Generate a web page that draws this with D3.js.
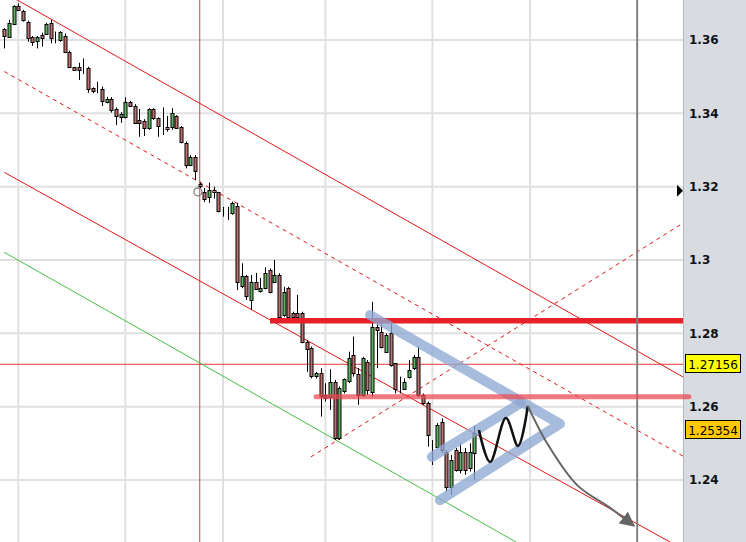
<!DOCTYPE html>
<html><head><meta charset="utf-8">
<script src="https://cdn.jsdelivr.net/npm/d3@7"></script>
<style>html,body{margin:0;padding:0;background:#fff;}svg{display:block;}</style>
</head><body>
<script>
// ---------- DATA ----------
const openP = [1.3629,1.3609,1.3644,1.3693,1.3679,1.3650,1.3607,1.3595,1.3614,1.3618,
1.3647,1.3607,1.3600,1.3611,1.3568,1.3526,1.3526,1.3527,1.3524,1.3468,
1.3466,1.3466,1.3432,1.3438,1.3411,1.3390,1.3390,1.3430,1.3420,1.3382,
1.3380,1.3359,1.3411,1.3386,1.3364,1.3364,1.3362,1.3394,1.3362,1.3320,
1.3259,1.3282,
1.3207,1.3186,1.3173,1.3191,1.3185,1.3130,1.3132,1.3127,1.3147,1.2927,
1.2955,1.2891,1.2941,1.2914,1.2923,1.2973,1.2941,1.2959,1.2850,1.2923,
1.2855,1.2855,1.2855,1.2777,1.2759,1.2682,1.2691,1.2632,1.2627,1.2668,
1.2514,1.2641,1.2668,1.2741,1.2688,1.2632,1.2723,1.2641,1.2818,1.2805,
1.2750,1.2800,1.2718,1.2646,1.2650,1.2682,1.2705,1.2736,1.2632,1.2609,
1.2500,1.2491,1.2559,1.2477,1.2382,1.2482,1.2427,1.2475,1.2432,1.2473];
const closeP = [1.3609,1.3647,1.3693,1.3682,1.3655,1.3607,1.3593,1.3607,1.3605,1.3644,
1.3605,1.3607,1.3621,1.3568,1.3526,1.3518,1.3518,1.3527,1.3468,1.3459,
1.3466,1.3432,1.3439,1.3409,1.3391,1.3398,1.3430,1.3420,1.3373,1.3374,
1.3362,1.3411,1.3386,1.3365,1.3364,1.3359,1.3400,1.3362,1.3320,1.3259,
1.3282,1.3244,
1.3202,1.3168,1.3191,1.3186,1.3132,1.3130,1.3132,1.3155,1.2941,1.2955,
1.2900,1.2941,1.2923,1.2923,1.2964,1.2914,1.2959,1.2845,1.2914,1.2845,
1.2845,1.2845,1.2777,1.2759,1.2682,1.2691,1.2627,1.2623,1.2668,1.2514,
1.2650,1.2675,1.2732,1.2691,1.2632,1.2734,1.2646,1.2818,1.2809,1.2764,
1.2796,1.2714,1.2646,1.2646,1.2668,1.2700,1.2736,1.2632,1.2609,1.2523,
1.2500,1.2550,1.2482,1.2382,1.2455,1.2427,1.2475,1.2427,1.2477,1.2527];
const highP = [1.3632,1.3655,1.3695,1.3700,1.3682,1.3653,1.3611,1.3611,1.3620,1.3647,
1.3655,1.3623,1.3624,1.3618,1.3571,1.3527,1.3538,1.3550,1.3527,1.3471,
1.3486,1.3473,1.3445,1.3444,1.3416,1.3403,1.3444,1.3434,1.3425,1.3412,
1.3384,1.3414,1.3414,1.3389,1.3416,1.3393,1.3414,1.3395,1.3365,1.3323,
1.3286,1.3286,
1.3213,1.3196,1.3211,1.3200,1.3186,1.3145,1.3145,1.3159,1.3156,1.2991,
1.2959,1.2959,1.2965,1.2951,1.2980,1.2977,1.3000,1.2964,1.2927,1.2927,
1.2859,1.2905,1.2859,1.2782,1.2764,1.2695,1.2705,1.2664,1.2702,1.2673,
1.2655,1.2677,1.2750,1.2791,1.2705,1.2736,1.2727,1.2886,1.2841,1.2832,
1.2800,1.2832,1.2718,1.2682,1.2677,1.2727,1.2741,1.2764,1.2636,1.2614,
1.2509,1.2555,1.2568,1.2482,1.2468,1.2487,1.2500,1.2487,1.2500,1.2547];
const lowP = [1.3577,1.3607,1.3641,1.3679,1.3650,1.3595,1.3584,1.3577,1.3582,1.3614,
1.3591,1.3591,1.3595,1.3564,1.3523,1.3517,1.3491,1.3507,1.3456,1.3455,
1.3455,1.3420,1.3427,1.3402,1.3368,1.3374,1.3386,1.3418,1.3371,1.3336,
1.3338,1.3355,1.3382,1.3336,1.3341,1.3350,1.3355,1.3359,1.3318,1.3250,
1.3256,1.3218,
1.3196,1.3158,1.3156,1.3168,1.3130,1.3118,1.3109,1.3123,1.2918,1.2923,
1.2891,1.2864,1.2918,1.2911,1.2920,1.2909,1.2938,1.2836,1.2845,1.2836,
1.2832,1.2842,1.2773,1.2695,1.2677,1.2677,1.2573,1.2614,1.2591,1.2509,
1.2509,1.2636,1.2664,1.2682,1.2605,1.2627,1.2632,1.2627,1.2705,1.2759,
1.2746,1.2709,1.2636,1.2636,1.2646,1.2677,1.2700,1.2627,1.2605,1.2491,
1.2441,1.2487,1.2473,1.2368,1.2359,1.2423,1.2418,1.2414,1.2423,1.2400];

const priceTicks = [1.24, 1.26, 1.28, 1.30, 1.32, 1.34, 1.36];
const priceTickLabels = ["1.24","1.26","1.28","1.3","1.32","1.34","1.36"];
const timeGridIdx = [3, 26, 47, 69, 92, 113];
const markerVLineIdx = 42;      // thin red vertical
const cursorVLineIdx = 136;     // dark gray vertical
const crossPrice = 1.27156;
const lastPrice = 1.25354;
const arrowMarkPrice = 1.32;

// trend lines [index, price]
const upperChannel = [[0, 1.3729], [146, 1.2680]];
const midChannel   = [[0, 1.3514], [146, 1.2464]];
const lowerChannel = [[0, 1.3239], [146, 1.2210]];
const greenLine    = [[0, 1.3021], [146, 1.1972]];
const risingDashed = [[65.9, 1.2463], [145.9, 1.3101]];
const resistance   = [[57.1, 1.2834], [145.9, 1.2834]];
const support      = [[67.0, 1.2627], [147.1, 1.2627]];
const bluePattern  = [[78.6, 1.2850], [119.4, 1.2553], [93.6, 1.2345]];
const blueRising   = [[91.9, 1.2463], [111.0, 1.2610]];
const wave         = [[102.0, 1.2536], [104.4, 1.2449], [107.8, 1.2569], [110.4, 1.2493], [112.5, 1.2602]];
const arrowPath    = [[112.5, 1.2602], [116.6, 1.2501], [123.1, 1.2386], [130.2, 1.2324], [135.3, 1.2275]];
const circleMark   = [41.6, 1.3186];

// ---------- DRAW ----------
const W = 746, H = 542, plotR = 683;
const x = d3.scaleLinear().domain([0, 101]).range([4.3, 474.3]);
const y = d3.scaleLinear().domain([1.24, 1.36]).range([480, 40]);

const svg = d3.select("body").append("svg").attr("width", W).attr("height", H)
  .style("font-family", "'DejaVu Sans', Verdana, sans-serif");
const defs = svg.append("defs");
defs.append("clipPath").attr("id", "plot").append("rect").attr("x", 0).attr("y", 0).attr("width", plotR).attr("height", H);
defs.append("marker").attr("id", "ah").attr("viewBox", "0 0 10 10").attr("refX", 9).attr("refY", 5)
  .attr("markerWidth", 15).attr("markerHeight", 15).attr("markerUnits", "userSpaceOnUse").attr("orient", "auto")
  .append("path").attr("d", "M0,0 L10,5 L0,10 z").attr("fill", "#666");

svg.append("rect").attr("width", W).attr("height", H).attr("fill", "#fff");
// right panel
svg.append("rect").attr("x", plotR).attr("y", 0).attr("width", W - plotR).attr("height", H).attr("fill", "#d8dce1");
svg.append("line").attr("x1", plotR + 0.5).attr("x2", plotR + 0.5).attr("y1", 0).attr("y2", H).attr("stroke", "#b4b8bd");

const g = svg.append("g").attr("clip-path", "url(#plot)");
// grid
g.selectAll(".hg").data(priceTicks).join("line")
  .attr("x1", 0).attr("x2", plotR).attr("y1", d => y(d)).attr("y2", d => y(d))
  .attr("stroke", "#e0e0e0").attr("stroke-width", 2);
g.selectAll(".vg").data(timeGridIdx).join("line")
  .attr("x1", d => x(d)).attr("x2", d => x(d)).attr("y1", 0).attr("y2", H)
  .attr("stroke", "#e0e0e0").attr("stroke-width", 2);

// thin red vertical & cross line
g.append("line").attr("x1", x(markerVLineIdx)).attr("x2", x(markerVLineIdx)).attr("y1", 0).attr("y2", H)
  .attr("stroke", "#c84848").attr("stroke-width", 1);
g.append("line").attr("x1", 0).attr("x2", plotR).attr("y1", y(crossPrice)).attr("y2", y(crossPrice))
  .attr("stroke", "#e83838").attr("stroke-width", 1);

const line = d3.line().x(d => x(d[0])).y(d => y(d[1]));
const addLine = (pts, color, w, dash) => g.append("path").attr("d", line(pts)).attr("fill", "none")
  .attr("stroke", color).attr("stroke-width", w).attr("stroke-dasharray", dash || null);
addLine(upperChannel, "#e01818", 1);
addLine(midChannel, "#e01818", 1, "4,4");
addLine(lowerChannel, "#e01818", 1);
addLine(greenLine, "#44c044", 1);
addLine(risingDashed, "#e01818", 1, "4,4");

// candles
const idx = d3.range(openP.length);
const cg = g.append("g");
cg.selectAll(".wick").data(idx).join("line")
  .attr("x1", i => Math.round(x(i)) + 0.5).attr("x2", i => Math.round(x(i)) + 0.5)
  .attr("y1", i => y(highP[i])).attr("y2", i => y(lowP[i]))
  .attr("stroke", "#000").attr("stroke-width", 1);
cg.selectAll(".body").data(idx).join("rect")
  .attr("x", i => Math.round(x(i)) - 1)
  .attr("y", i => Math.round(y(Math.max(openP[i], closeP[i]))) + 0.5)
  .attr("width", 3)
  .attr("height", i => Math.max(0, Math.round(Math.abs(y(openP[i]) - y(closeP[i])))))
  .attr("fill", i => closeP[i] >= openP[i] ? "#5fb45f" : "#c07070")
  .attr("stroke", "#000").attr("stroke-width", 1);

// circle marker
g.append("circle").attr("cx", x(circleMark[0])).attr("cy", y(circleMark[1])).attr("r", 4)
  .attr("fill", "none").attr("stroke", "#777").attr("stroke-width", 1.2);

// horizontal levels
g.append("path").attr("d", line(resistance)).attr("stroke", "#e8202a").attr("stroke-width", 5.5).attr("fill", "none");
svg.append("path").attr("d", line(support)).attr("stroke", "rgba(236,70,80,0.72)").attr("stroke-width", 5).attr("stroke-linecap", "round").attr("fill", "none");

// blue pattern
g.append("path").attr("d", line(bluePattern)).attr("fill", "none").attr("stroke", "#8ea8d2").attr("stroke-opacity", 0.78)
  .attr("stroke-width", 10).attr("stroke-linecap", "round").attr("stroke-linejoin", "round");
g.append("path").attr("d", line(blueRising)).attr("fill", "none").attr("stroke", "#8ea8d2").attr("stroke-opacity", 0.78)
  .attr("stroke-width", 10).attr("stroke-linecap", "round");

// wave and arrow
g.append("path").attr("d", line.curve(d3.curveCatmullRom.alpha(0.5))(wave)).attr("fill", "none")
  .attr("stroke", "#111").attr("stroke-width", 2.5);
g.append("path").attr("d", d3.line().x(d => x(d[0])).y(d => y(d[1])).curve(d3.curveCatmullRom.alpha(0.5))(arrowPath))
  .attr("fill", "none").attr("stroke", "#666").attr("stroke-width", 2).attr("marker-end", "url(#ah)");

// dark vertical
g.append("line").attr("x1", x(cursorVLineIdx)).attr("x2", x(cursorVLineIdx)).attr("y1", 0).attr("y2", H)
  .attr("stroke", "#808080").attr("stroke-width", 2);

// axis labels
svg.selectAll(".tl").data(priceTicks).join("text")
  .attr("x", 689).attr("y", d => y(d)).attr("dy", "0.36em")
  .attr("font-size", 12).attr("font-weight", "bold").attr("fill", "#111")
  .text((d, i) => priceTickLabels[i]);

// triangle marker at 1.32
const ty = y(arrowMarkPrice) + 4;
svg.append("path").attr("d", `M${plotR - 6},${ty - 6}L${plotR},${ty}L${plotR - 6},${ty + 6}Z`).attr("fill", "#000");

// badges
const badge = (p, fill) => {
  const yy = y(p);
  svg.append("rect").attr("x", 685.5).attr("y", Math.round(yy) - 9.5).attr("width", 55).attr("height", 18)
    .attr("fill", fill).attr("stroke", "#000");
  svg.append("text").attr("x", 713).attr("y", yy).attr("dy", "0.36em").attr("text-anchor", "middle")
    .attr("font-size", 12).attr("fill", "#000").text(p.toFixed(5));
};
badge(crossPrice, "#ffff00");
badge(lastPrice, "#ffc800");
</script>
</body></html>
